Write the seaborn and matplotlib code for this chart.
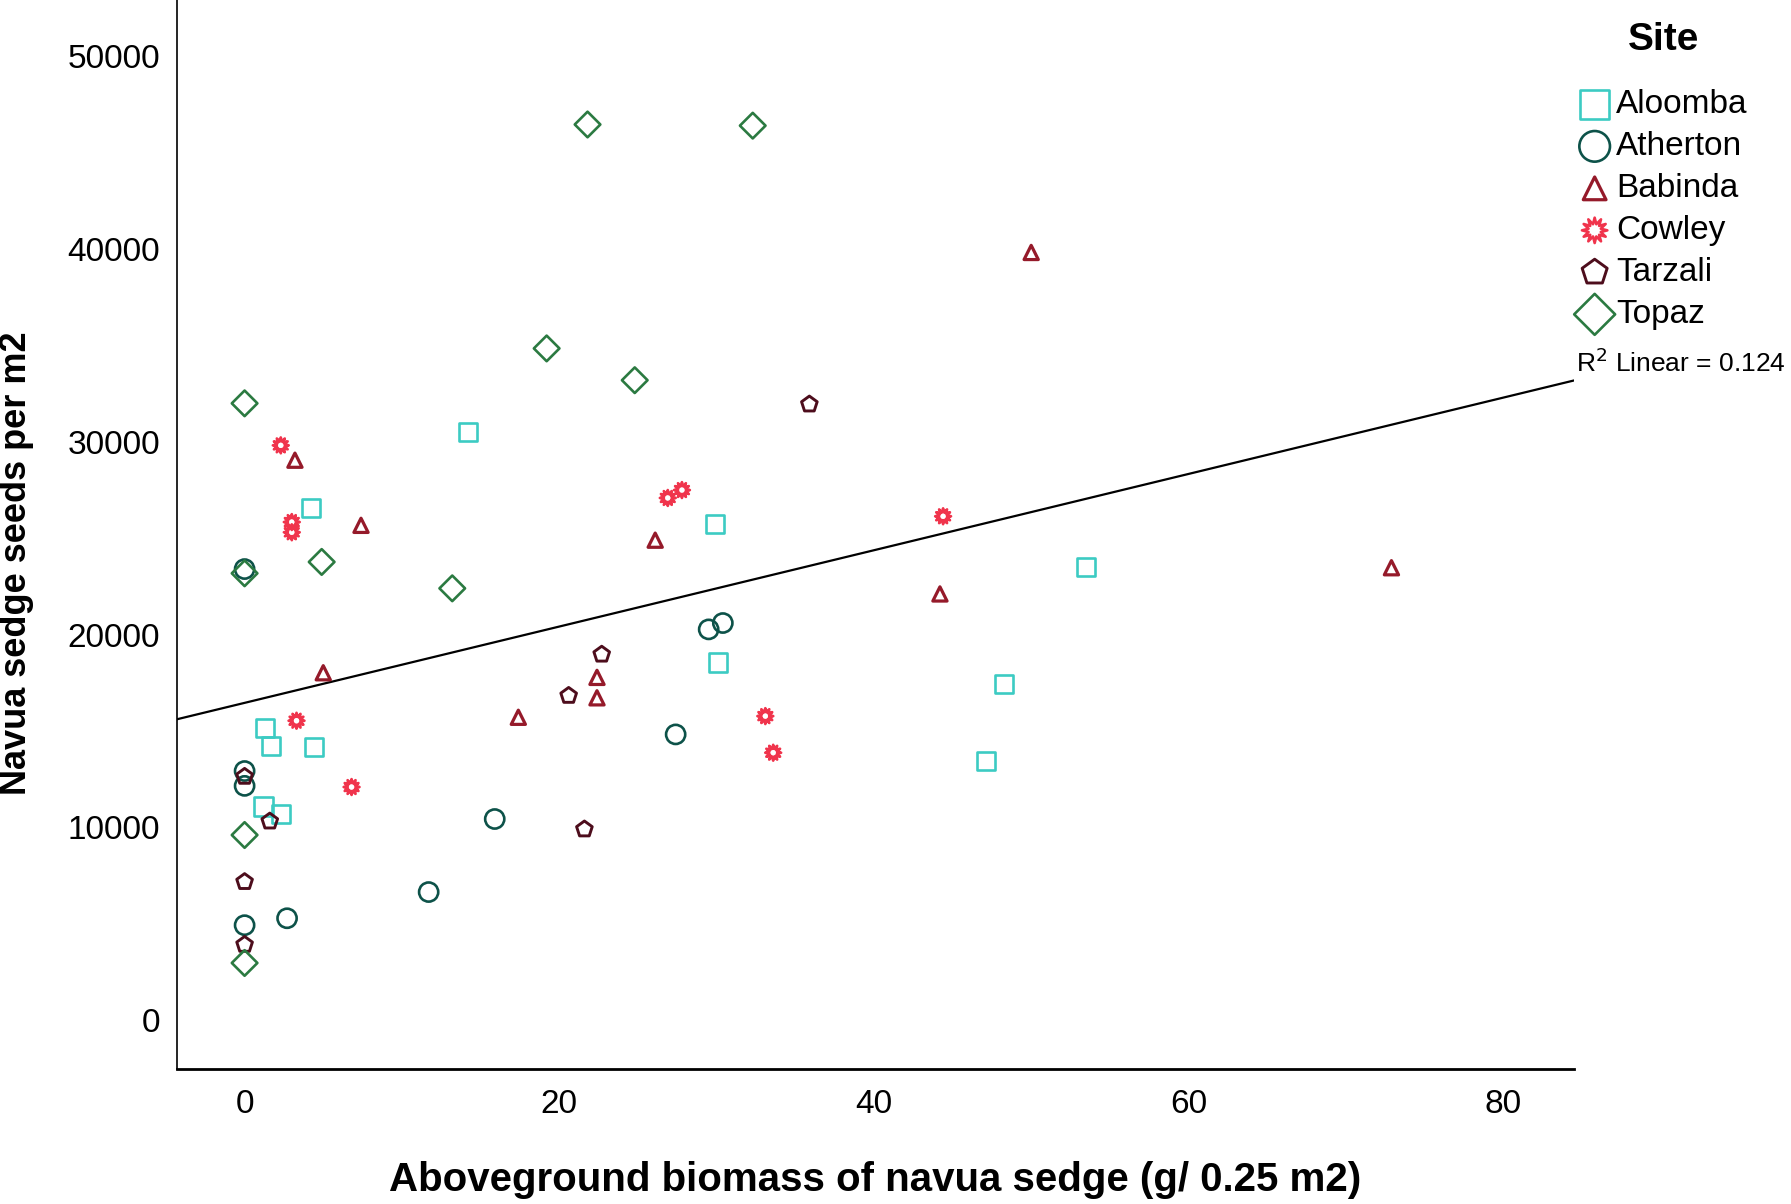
#!/usr/bin/env python3
"""Navua sedge seed bank vs aboveground biomass, by site."""

import matplotlib
matplotlib.use("Agg")
import matplotlib.pyplot as plt
import pandas as pd
import seaborn as sns

# biomass (g / 0.25 m2) and seeds per m2
aloomba_x = [14.2, 4.2, 29.9, 53.5, 30.1, 48.3, 1.3, 1.7, 4.4, 47.1, 1.2, 2.3]
aloomba_y = [30530, 26560, 25730, 23530, 18550, 17430, 15170, 14230, 14170, 13460, 11080, 10670]

atherton_x = [0.0, 29.5, 30.4, 27.4, 0.0, 0.0, 15.9, 11.7, 2.7, 0.0]
atherton_y = [23400, 20270, 20600, 14820, 12920, 12150, 10430, 6640, 5280, 4920]

babinda_x = [50.0, 3.2, 7.4, 26.1, 44.2, 72.9, 5.0, 22.4, 22.4, 17.4]
babinda_y = [39830, 29050, 25670, 24900, 22110, 23470, 18020, 17780, 16720, 15710]

cowley_x = [2.3, 3.0, 3.0, 26.9, 27.8, 44.4, 3.3, 33.1, 33.6, 6.8]
cowley_y = [29820, 25840, 25310, 27090, 27500, 26140, 15530, 15770, 13870, 12090]

tarzali_x = [35.9, 22.7, 20.6, 0.0, 1.6, 21.6, 0.0, 0.0]
tarzali_y = [31950, 18970, 16830, 12630, 10310, 9900, 7170, 3910]

topaz_x = [21.8, 32.3, 19.2, 24.8, 0.0, 4.9, 0.0, 13.2, 0.0, 0.0]
topaz_y = [46470, 46410, 34850, 33200, 32000, 23770, 23180, 22400, 9600, 2960]

sites = ["Aloomba", "Atherton", "Babinda", "Cowley", "Tarzali", "Topaz"]
x_ticks = [0, 20, 40, 60, 80]
y_ticks = [0, 10000, 20000, 30000, 40000, 50000]
r2_label = "R$^2$ Linear = 0.124"

site_style = {
    "Aloomba": ("s", 170, "#3ccbc3", 1.9),
    "Atherton": ("o", 190, "#0d5249", 1.9),
    "Babinda": ("^", 105, "#951a2a", 2.3),
    "Cowley": ((12, 1, 0), 130, "#f0344c", 1.9),
    "Tarzali": ("p", 140, "#4d0d1c", 2.1),
    "Topaz": ("D", 170, "#2b7a41", 1.9),
}

frames = []
for site, xs, ys in zip(
    sites,
    [aloomba_x, atherton_x, babinda_x, cowley_x, tarzali_x, topaz_x],
    [aloomba_y, atherton_y, babinda_y, cowley_y, tarzali_y, topaz_y],
):
    frames.append(pd.DataFrame({"biomass": xs, "seeds": ys, "site": site}))
df = pd.concat(frames, ignore_index=True)

sns.set_style("white")
plt.rcParams["font.family"] = ["Liberation Sans", "DejaVu Sans"]
plt.rcParams.update({
    "text.color": "black",
    "axes.labelcolor": "black",
    "xtick.color": "black",
    "ytick.color": "black",
})

fig = plt.figure(figsize=(17.91, 12.04), dpi=100)
ax = fig.add_axes([0.0988, 0.112, 0.780, 0.888])

ax.set_xlim(-4.3, 84.5)
ax.set_ylim(-2550, 52930)

for site in sites:
    marker, size, color, lw = site_style[site]
    sns.scatterplot(
        data=df[df["site"] == site], x="biomass", y="seeds", ax=ax,
        marker=marker, s=size, facecolors="none", edgecolors=color,
        linewidth=lw, label=site, zorder=3,
    )

sns.regplot(
    data=df, x="biomass", y="seeds", ax=ax, scatter=False, ci=None,
    truncate=False, color="black", line_kws={"linewidth": 1.6},
)

ax.set_xticks(x_ticks)
ax.set_yticks(y_ticks)
ax.tick_params(axis="both", length=0, labelsize=24)
ax.tick_params(axis="x", pad=14)
ax.tick_params(axis="y", pad=12)

ax.set_xlabel("Aboveground biomass of navua sedge (g/ 0.25 m2)", fontsize=29, fontweight="bold")
ax.set_ylabel("Navua sedge seeds per m2", fontsize=26, fontweight="bold")
ax.xaxis.set_label_coords(0.5, -0.086)
ax.yaxis.set_label_coords(-0.102, 0.473)

for side in ["top", "right"]:
    ax.spines[side].set_visible(False)
ax.spines["left"].set_linewidth(1.2)
ax.spines["bottom"].set_linewidth(2.0)
ax.spines["left"].set_color("black")
ax.spines["bottom"].set_color("black")

ax.text(84.6, 34100, r2_label, fontsize=19, ha="left", va="center", clip_on=False)

handles, labels = ax.get_legend_handles_labels()
if ax.legend_:
    ax.legend_.remove()
fig.legend(
    handles, labels, loc="upper left", bbox_to_anchor=(0.882, 0.926),
    frameon=False, fontsize=24, markerscale=1.6, handlelength=0.9,
    handletextpad=0.2, labelspacing=0.33, borderaxespad=0, borderpad=0,
)
fig.text(0.9286, 0.9668, "Site", fontsize=28, fontweight="bold", ha="center", va="center")

fig.savefig("out.png", dpi=100)
